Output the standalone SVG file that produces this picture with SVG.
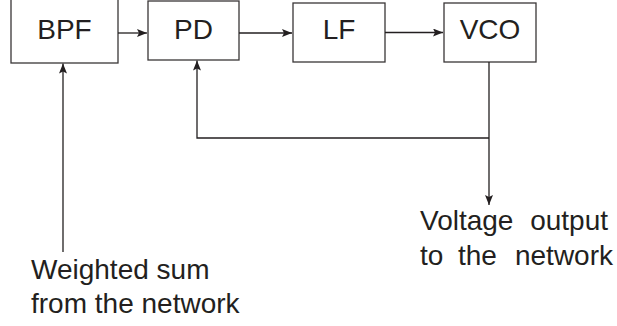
<svg xmlns="http://www.w3.org/2000/svg" width="617" height="326" viewBox="0 0 617 326">
<style>
.box{fill:#fff;stroke:#3a3637;stroke-width:1.3}
.lbl{font-family:"Liberation Sans",Arial,sans-serif;font-size:28px;fill:#231f20}
.ln{fill:none;stroke:#231f20;stroke-width:1.3}
</style>
<defs>
<marker id="ah" viewBox="0 0 10 8" refX="10" refY="4" markerWidth="10" markerHeight="8" markerUnits="userSpaceOnUse" orient="auto">
<path d="M0,0 L10,4 L0,8 L2,4 z" fill="#231f20"/>
</marker>
</defs>
<rect width="617" height="326" fill="#fff"/>
<g id="bpf"><rect class="box" x="11" y="-2" width="107" height="65"/><text class="lbl" x="64.5" y="38.5" text-anchor="middle">BPF</text></g>
<g id="pd"><rect class="box" x="148" y="1" width="91" height="59"/><text class="lbl" x="193.5" y="38.5" text-anchor="middle">PD</text></g>
<g id="lf"><rect class="box" x="293" y="3" width="92" height="59"/><text class="lbl" x="339" y="39" text-anchor="middle">LF</text></g>
<g id="vco"><rect class="box" x="444" y="3" width="92" height="59"/><text class="lbl" x="490" y="39" text-anchor="middle">VCO</text></g>
<g id="connectors">
<line class="ln" x1="118" y1="33" x2="147" y2="33" marker-end="url(#ah)"/>
<line class="ln" x1="239" y1="33" x2="292" y2="33" marker-end="url(#ah)"/>
<line class="ln" x1="385" y1="32.5" x2="443" y2="32.5" marker-end="url(#ah)"/>
<line class="ln" x1="63" y1="252" x2="63" y2="63.5" marker-end="url(#ah)"/>
<polyline class="ln" points="489,138 197,138 197,60.5" marker-end="url(#ah)"/>
<line class="ln" x1="489" y1="62" x2="489" y2="205" marker-end="url(#ah)"/>
</g>
<g id="input-label"><text class="lbl"><tspan x="31" y="279">Weighted sum</tspan><tspan x="31" y="313">from the network</tspan></text></g>
<g id="output-label"><text class="lbl"><tspan x="420" y="230">Voltage</tspan><tspan x="608" y="230" text-anchor="end">output</tspan><tspan x="420" y="265">to</tspan><tspan x="458" y="265">the</tspan><tspan x="613" y="265" text-anchor="end">network</tspan></text></g>
</svg>
